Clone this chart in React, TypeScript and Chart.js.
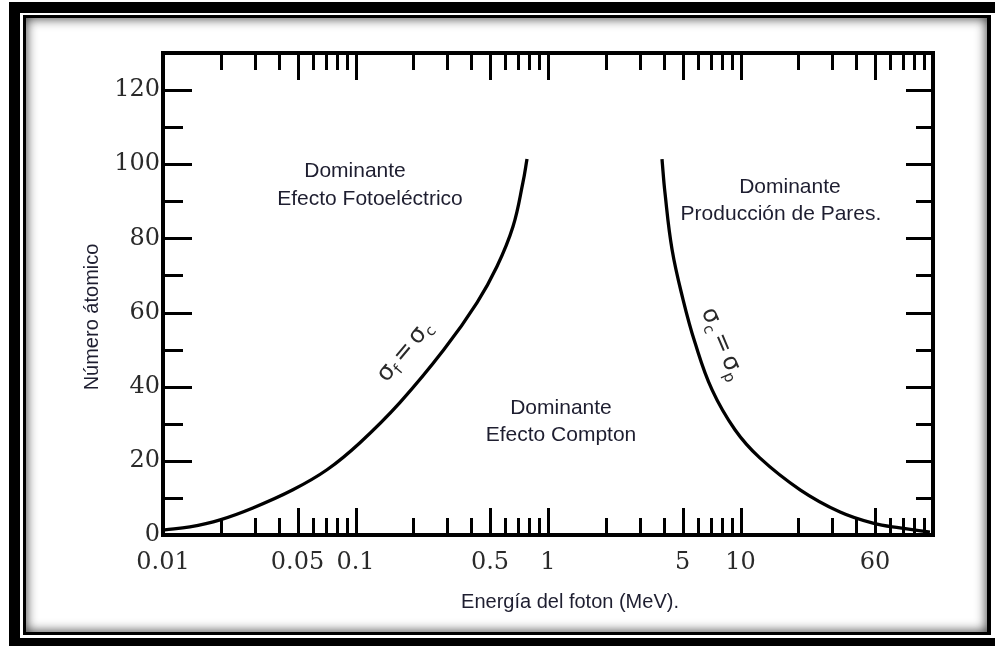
import React, { useEffect, useRef } from 'react';
import { Chart, registerables } from 'chart.js';

Chart.register(...registerables);

// Boundary where the photoelectric and Compton cross sections are equal (σf = σc)
const PHOTO_COMPTON_ENERGY = [0.0102, 0.0138, 0.0198, 0.0293, 0.0473, 0.0711, 0.1055, 0.17, 0.288, 0.428, 0.543, 0.658, 0.741, 0.778];
const PHOTO_COMPTON_Z = [1.4, 2.2, 4.1, 7.3, 12.2, 17.6, 24.9, 35.7, 50, 62.7, 72.4, 83.2, 95.1, 101.4];

// Boundary where the Compton and pair-production cross sections are equal (σc = σp)
const COMPTON_PAIR_ENERGY = [3.91, 4.05, 4.41, 5.03, 5.8, 7.11, 9.36, 12.6, 20.4, 32.9, 48.8, 67.4, 96.4];
const COMPTON_PAIR_Z = [101.4, 92.4, 77, 63.5, 51.9, 39.2, 28.4, 20.8, 12.2, 6.2, 3.2, 1.9, 0.8];

// Axis ranges
const X_MIN = 0.01;
const X_MAX = 100;
const Y_MIN = 0;
const Y_MAX = 130;
const Y_STEP = 10;

// Every tick mark on the energy axis (1-2-…-9 per decade)
const X_TICK_VALUES = [
  0.01, 0.02, 0.03, 0.04, 0.05, 0.06, 0.07, 0.08, 0.09,
  0.1, 0.2, 0.3, 0.4, 0.5, 0.6, 0.7, 0.8, 0.9,
  1, 2, 3, 4, 5, 6, 7, 8, 9,
  10, 20, 30, 40, 50, 60, 70, 80, 90,
  100,
];
// Ticks drawn long
const X_MAJOR_TICKS = [0.05, 0.1, 0.5, 1, 5, 10, 50];
// Labelled energy ticks and their text
const X_LABEL_VALUES = [0.01, 0.05, 0.1, 0.5, 1, 5, 10, 50];
const X_LABEL_TEXTS = ['0.01', '0.05', '0.1', '0.5', '1', '5', '10', '60'];

// Labelled atomic-number ticks (also drawn long)
const Y_LABEL_VALUES = [0, 20, 40, 60, 80, 100, 120];

// Region captions: [energy, Z, text]
const REGION_LINES: [number, number, string][] = [
  [0.0994, 98.1, 'Dominante'],
  [0.1189, 90.5, 'Efecto Fotoeléctrico'],
  [1.168, 34.3, 'Dominante'],
  [1.168, 26.8, 'Efecto Compton'],
  [18.07, 93.8, 'Dominante'],
  [16.23, 86.5, 'Producción de Pares.'],
];

// Curve labels: [energy, Z, angle in degrees, first subscript, second subscript]
const CURVE_LABELS: [number, number, number, string, string][] = [
  [0.181, 49.5, -50, 'f', 'c'],
  [8.0, 51.5, 67, 'c', 'p'],
];

const X_TITLE = 'Energía del foton (MeV).';
const Y_TITLE = 'Número átomico';

const INK = '#000000';
const TEXT = '#1e1e30';
const SERIF = '"DejaVu Serif", serif';
const SANS = '"Liberation Sans", Arial, sans-serif';

const framePlugin = {
  id: 'frame',
  beforeDraw(chart: any) {
    const { ctx, width: W, height: H } = chart;
    ctx.save();
    ctx.fillStyle = '#ffffff';
    ctx.fillRect(0, 0, W, H);
    // thick outer band
    ctx.fillStyle = '#000000';
    ctx.fillRect(9, 2, W, H);
    ctx.fillStyle = '#ffffff';
    ctx.fillRect(20, 13, W, 625);
    // thin inner rule
    ctx.fillStyle = '#000000';
    ctx.fillRect(23, 15, 968, 620);
    // panel with an inset shadow
    const ix = 26, iy = 18, iw = 961, ih = 614;
    ctx.fillStyle = '#ffffff';
    ctx.fillRect(ix, iy, iw, ih);
    ctx.beginPath();
    ctx.rect(ix, iy, iw, ih);
    ctx.clip();
    ctx.shadowColor = 'rgba(0,0,0,0.85)';
    ctx.shadowBlur = 12;
    ctx.lineWidth = 10;
    ctx.strokeStyle = '#000000';
    ctx.strokeRect(ix - 5, iy - 5, iw + 10, ih + 10);
    ctx.restore();
  },
};

const axisPlugin = {
  id: 'inwardTicks',
  afterDatasetsDraw(chart: any) {
    const { ctx, chartArea: a, scales } = chart;
    const xs = scales.x;
    const ys = scales.y;
    ctx.save();
    ctx.strokeStyle = INK;
    ctx.lineWidth = 3;
    ctx.beginPath();
    for (const v of X_TICK_VALUES) {
      if (v <= X_MIN || v >= X_MAX) continue;
      const px = Math.round(xs.getPixelForValue(v)) + 0.5;
      const len = X_MAJOR_TICKS.includes(v) ? 27 : 17;
      ctx.moveTo(px, a.bottom);
      ctx.lineTo(px, a.bottom - len);
      ctx.moveTo(px, a.top);
      ctx.lineTo(px, a.top + len);
    }
    for (const t of ys.ticks) {
      const v = t.value;
      if (v <= Y_MIN || v >= Y_MAX) continue;
      const py = Math.round(ys.getPixelForValue(v)) + 0.5;
      const major = Y_LABEL_VALUES.includes(v);
      ctx.moveTo(a.left, py);
      ctx.lineTo(a.left + (major ? 29 : 20), py);
      ctx.moveTo(a.right, py);
      ctx.lineTo(a.right - (major ? 27 : 17), py);
    }
    ctx.stroke();
    ctx.lineWidth = 4;
    ctx.strokeRect(a.left, a.top, a.right - a.left, a.bottom - a.top);
    ctx.restore();
  },
};

function drawCurveLabel(ctx: CanvasRenderingContext2D, cx: number, cy: number, deg: number, s1: string, s2: string) {
  const main = `24px "DejaVu Sans", sans-serif`;
  const sub = `15px "DejaVu Sans", sans-serif`;
  ctx.save();
  ctx.translate(cx, cy);
  ctx.rotate((deg * Math.PI) / 180);
  ctx.fillStyle = '#2a2a2a';
  ctx.textBaseline = 'alphabetic';
  ctx.textAlign = 'left';
  ctx.font = main;
  const wSig = ctx.measureText('σ').width;
  const wEq = ctx.measureText('=').width;
  ctx.font = sub;
  const wS1 = ctx.measureText(s1).width;
  const wS2 = ctx.measureText(s2).width;
  const gap = 4;
  const total = wSig + wS1 + gap + wEq + gap + wSig + wS2;
  let x = -total / 2;
  const base = 6;
  ctx.font = main;
  ctx.fillText('σ', x, base);
  x += wSig;
  ctx.font = sub;
  ctx.fillText(s1, x, base + 5);
  x += wS1 + gap;
  ctx.font = main;
  ctx.fillText('=', x, base);
  x += wEq + gap;
  ctx.fillText('σ', x, base);
  x += wSig;
  ctx.font = sub;
  ctx.fillText(s2, x, base + 5);
  ctx.restore();
}

const textPlugin = {
  id: 'captions',
  afterDraw(chart: any) {
    const { ctx, scales } = chart;
    const xs = scales.x;
    const ys = scales.y;
    ctx.save();
    ctx.fillStyle = TEXT;
    ctx.font = `21px ${SANS}`;
    ctx.textAlign = 'center';
    ctx.textBaseline = 'middle';
    for (const [e, z, t] of REGION_LINES) {
      ctx.fillText(t, xs.getPixelForValue(e), ys.getPixelForValue(z));
    }
    // axis titles
    ctx.font = `20px ${SANS}`;
    ctx.fillText(X_TITLE, 570, 602);
    ctx.save();
    ctx.translate(92, 317);
    ctx.rotate(-Math.PI / 2);
    ctx.fillText(Y_TITLE, 0, 0);
    ctx.restore();
    for (const [e, z, deg, s1, s2] of CURVE_LABELS) {
      drawCurveLabel(ctx, xs.getPixelForValue(e), ys.getPixelForValue(z), deg, s1, s2);
    }
    ctx.restore();
  },
};

function xLabel(v: number): string {
  const i = X_LABEL_VALUES.findIndex((lv) => Math.abs(lv - v) < 1e-9);
  return i >= 0 ? X_LABEL_TEXTS[i] : '';
}

export default function App() {
  const canvasRef = useRef<HTMLCanvasElement | null>(null);

  useEffect(() => {
    const canvas = canvasRef.current;
    if (!canvas) return;
    const curve = (xsArr: number[], ysArr: number[]) => xsArr.map((x, i) => ({ x, y: ysArr[i] }));
    const lineStyle = {
      showLine: true,
      borderColor: INK,
      borderWidth: 3.3,
      pointRadius: 0,
      tension: 0.4,
      fill: false,
    };
    const chart = new Chart(canvas, {
      type: 'scatter',
      data: {
        datasets: [
          { data: curve(PHOTO_COMPTON_ENERGY, PHOTO_COMPTON_Z), ...lineStyle },
          { data: curve(COMPTON_PAIR_ENERGY, COMPTON_PAIR_Z), ...lineStyle },
        ],
      },
      options: {
        animation: false,
        responsive: false,
        events: [],
        devicePixelRatio: 1,
        layout: { padding: { left: 0, top: 53, right: 62, bottom: 0 } },
        plugins: { legend: { display: false }, tooltip: { enabled: false } },
        scales: {
          x: {
            type: 'logarithmic',
            min: X_MIN,
            max: X_MAX,
            position: 'bottom',
            grid: { display: false, drawTicks: false },
            border: { display: false },
            afterBuildTicks: (s: any) => {
              s.ticks = X_TICK_VALUES.map((v) => ({ value: v }));
            },
            afterFit: (s: any) => {
              s.height = 111;
            },
            ticks: {
              autoSkip: false,
              maxRotation: 0,
              minRotation: 0,
              padding: 13,
              color: '#2a2a2a',
              font: { family: SERIF, size: 24 },
              callback: (v: any) => xLabel(Number(v)),
            },
          },
          y: {
            type: 'linear',
            min: Y_MIN,
            max: Y_MAX,
            position: 'left',
            grid: { display: false, drawTicks: false },
            border: { display: false },
            afterFit: (s: any) => {
              s.width = 163;
            },
            ticks: {
              stepSize: Y_STEP,
              autoSkip: false,
              padding: 3,
              color: '#2a2a2a',
              font: { family: SERIF, size: 24 },
              callback: (v: any) => (Y_LABEL_VALUES.includes(Number(v)) ? String(v) : ''),
            },
          },
        },
      },
      plugins: [framePlugin, axisPlugin, textPlugin],
    } as any);
    return () => chart.destroy();
  }, []);

  return (
    <div style={{ position: 'absolute', left: 0, top: 0, width: 995, height: 646 }}>
      <canvas ref={canvasRef} width={995} height={646} style={{ display: 'block' }} />
    </div>
  );
}
